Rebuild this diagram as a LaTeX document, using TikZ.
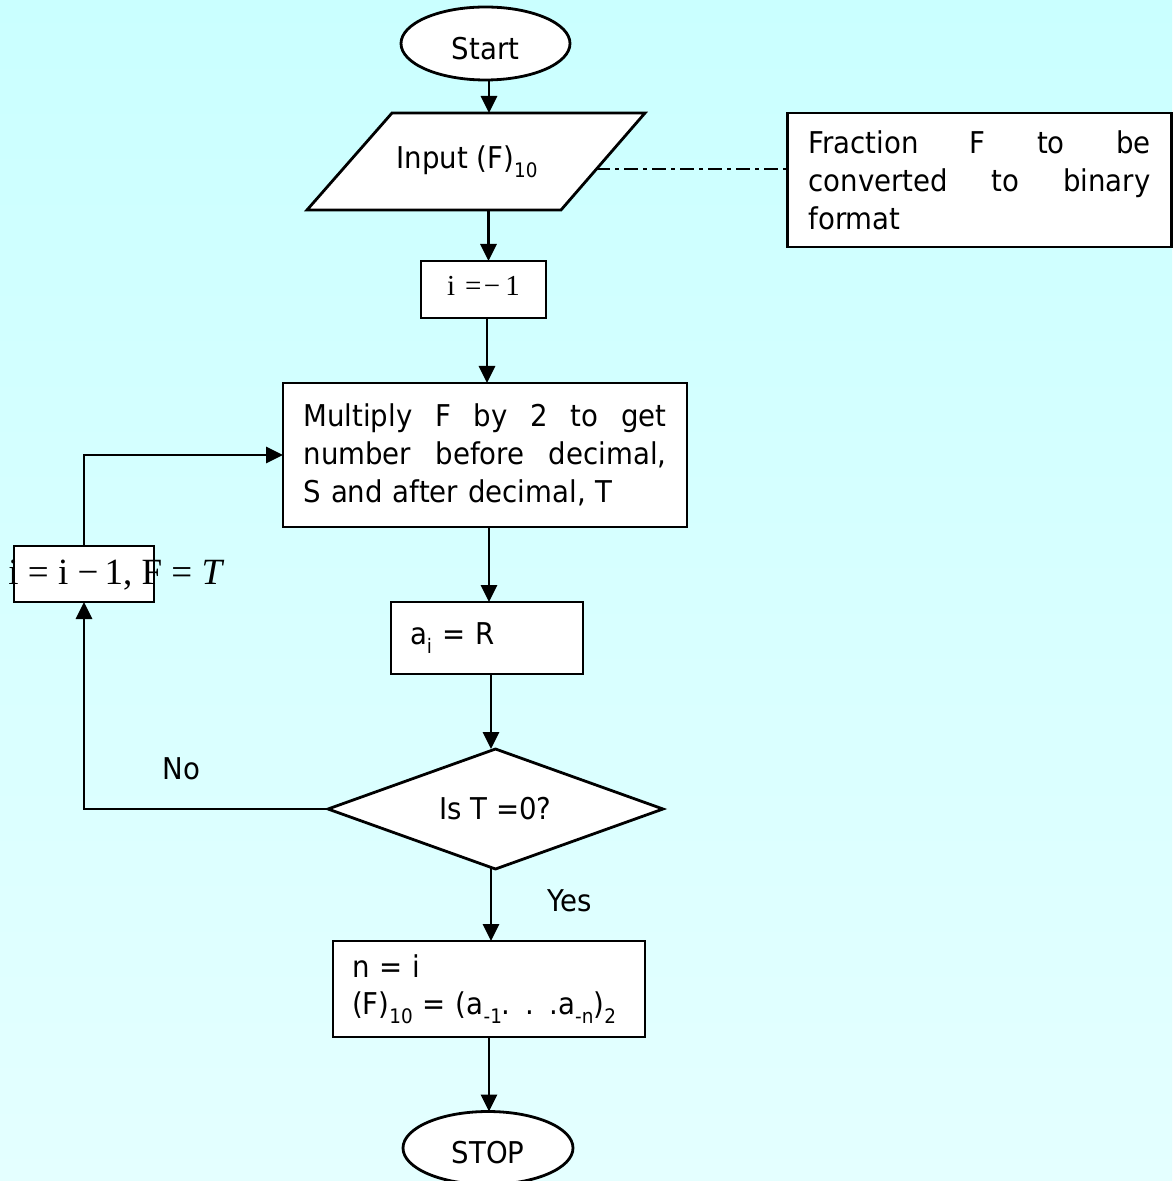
\documentclass[tikz,border=0pt]{standalone}
\usepackage{fontspec}
\setmainfont{DejaVu Sans}[FakeStretch=0.92]
\newfontfamily\tnr{Liberation Serif}
\usetikzlibrary{shapes.geometric,arrows.meta}
\definecolor{bgtop}{RGB}{202,255,255}
\definecolor{bgbot}{RGB}{228,255,255}
\newcommand\sbs[1]{\raisebox{-0.3em}{\fontsize{10}{10}\selectfont #1}}
\begin{document}
\begin{tikzpicture}[x=0.5pt,y=-0.5pt,
  base/.style={draw=black,line width=1.4pt,fill=white,inner sep=0pt,outer sep=0pt,font=\fontsize{15}{19}\selectfont},
  boxnode/.style={base,rectangle,align=left},
  term/.style={base,ellipse},
  shapeline/.style={draw=black,line width=1.4pt,fill=white,line join=miter},
  arr/.style={line width=1.4pt,-{Triangle[length=8.5pt,width=8pt]}},
  lbl/.style={font=\fontsize{15}{19}\selectfont,inner sep=0pt,anchor=base west},
  dashdot/.style={line width=1.1pt,dash pattern=on 7pt off 2.5pt on 2pt off 2.5pt}
  ]
\shade[top color=bgtop,bottom color=bgbot] (0,0) rectangle (1172,1181);
\useasboundingbox (0,0) rectangle (1172,1181);

% nodes
\node[term,minimum width=84.5pt,minimum height=36.5pt] (start) at (485.5,43.5)
  {\raisebox{-2.5pt}[\height][\depth]{Start}};
% parallelogram (input/output symbol)
\path[shapeline] (392,113) -- (645,113) -- (561,210) -- (307,210) -- cycle;
\node[rectangle,inner sep=0pt,outer sep=0pt,minimum width=120pt,minimum height=48.5pt,
  font=\fontsize{15}{19}\selectfont] (input) at (476,161.5)
  {Input (F)\sbs{10}\hspace*{9pt}};
\node[boxnode,minimum width=192pt,minimum height=67pt,text width=171pt] (note) at (979.5,180)
  {\makebox[171pt][l]{Fraction\hfill F\hfill to\hfill be}\\
   \makebox[171pt][l]{converted\hfill to\hfill binary}\\
   format};
\node[boxnode,minimum width=62.5pt,minimum height=28.5pt] (init) at (483.5,289.5)
  {\raisebox{2pt}[\height][\depth]{\tnr\fontsize{14.5}{16}\selectfont i\hspace{0.35em}=\hspace{0.08em}−\hspace{0.18em}1}};
\node[boxnode,minimum width=202pt,minimum height=72pt,text width=181.5pt] (mult) at (485,455)
  {\makebox[181.5pt][l]{Multiply\hfill F\hfill by\hfill 2\hfill to\hfill get}\\
   \makebox[181.5pt][l]{number\hfill before\hfill decimal,}\\
   S and after decimal, T};
\node[boxnode,minimum width=96pt,minimum height=36pt,text width=77pt] (ai) at (487,638)
  {a\sbs{i} = R};
\node[base,diamond,shape aspect=2.8,minimum width=167.5pt,minimum height=60pt] (dec) at (495.5,809)
  {Is T =0?};
\node[boxnode,minimum width=156pt,minimum height=48pt,text width=137pt,
  font=\fontsize{15}{18.5}\selectfont] (res) at (489,989)
  {n = i\\ (F)\sbs{10} = (a\sbs{-1}. . .a\sbs{-n})\sbs{2}};
\node[term,minimum width=85pt,minimum height=36.5pt] (stop) at (488,1148)
  {\raisebox{-2.5pt}[\height][\depth]{STOP}};
\node[base,rectangle,minimum width=70pt,minimum height=28pt] (leftbox) at (84,574) {};
\node[lbl,font=\tnr\fontsize{18.5}{20}\selectfont] (lefttxt) at (8,584)
  {i = i −\,1, F = \textit{T}};
\node[lbl] (no) at (162,779) {No};
\node[lbl] (yes) at (547,911) {Yes};

% connectors
\coordinate (dd) at (596,169);
\draw[dashdot] (dd) -- (dd -| note.west);
\draw[arr] ([xshift=1.75pt]start.south) -- ([xshift=1.75pt]start.south |- input.north);
\draw[arr] ([xshift=6.25pt]input.south) -- ([xshift=6.25pt]input.south |- init.north);
\draw[arr] ([xshift=1.75pt]init.south) -- ([xshift=1.75pt]init.south |- mult.north);
\draw[arr] ([xshift=2pt]mult.south) -- ([xshift=2pt]mult.south |- ai.north);
\draw[arr] ([xshift=2pt]ai.south) -- ([xshift=2pt]ai.south |- dec.north);
\draw[arr] ([xshift=-2.25pt,yshift=1pt]dec.south) -- ([xshift=-2.25pt]dec.south |- res.north);
\draw[arr] (res.south) -- (res.south |- stop.north);
\draw[arr] (dec.west) -| (leftbox.south);
\draw[arr] (leftbox.north) |- (mult.west);
\end{tikzpicture}
\end{document}
